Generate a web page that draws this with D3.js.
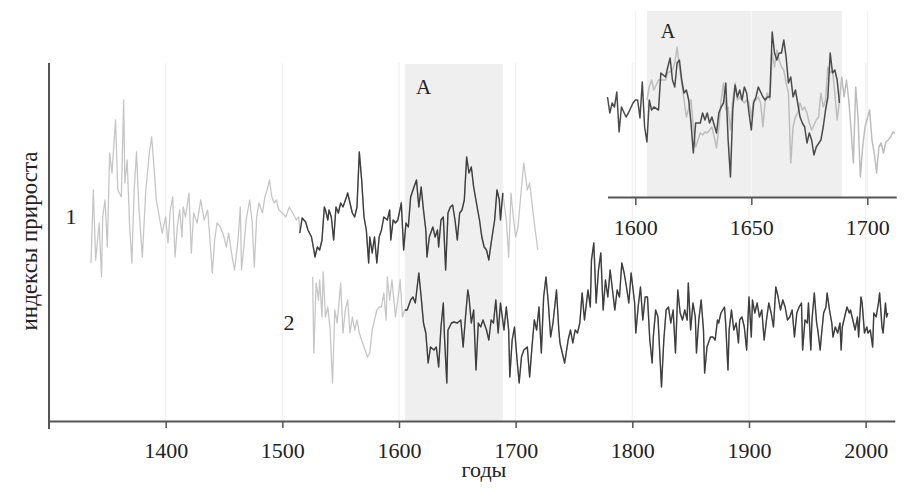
<!DOCTYPE html>
<html><head><meta charset="utf-8">
<script src="https://cdn.jsdelivr.net/npm/d3@7/dist/d3.min.js"></script>
<style>
html,body{margin:0;padding:0;background:#fff;}
svg{display:block;font-family:"Liberation Serif","Times New Roman",serif;}
</style></head>
<body><svg id="chart" width="921" height="491"></svg>
<script>
// ---- data: growth indices (%) ----
const xTicksMain = [1400,1500,1600,1700,1800,1900,2000];
const xTicksInset = [1600,1650,1700];
const periodA = [1605,1689];
const s1DarkRange = [1515,1689];
const s2DarkRange = [1605,2019];

const s1Years = [1336,1338,1340,1343,1345,1346,1348,1350,1352,1354,1357,1359,1362,1364,1365,1367,1369,1371,1373,1375,
1377,1380,1383,1386,1388,1390,1392,1395,1397,1400,1402,1404,1406,1408,1410,1412,1414,1415,1417,1420,
1422,1424,1427,1430,1433,1436,1438,1440,1442,1444,1447,1450,1452,1454,1457,1459,1462,1464,1465,1467,
1469,1472,1474,1476,1478,1480,1483,1485,1487,1489,1491,1493,1495,1497,1500,1503,1506,1509,1512,1514,
1515,1517,1520,1522,1525,1527,1528,1530,1532,1534,1536,1537,1539,1540,1542,1544,1546,1548,1550,1552,
1555,1556,1558,1560,1562,1564,1566,1568,1570,1572,1574,1575,1577,1579,1581,1583,1585,1587,1590,1592,
1593,1595,1597,1599,1602,1604,1606,1608,1610,1612,1615,1617,1619,1621,1623,1624,1626,1629,1631,1633,
1634,1636,1638,1640,1642,1644,1646,1648,1650,1652,1654,1656,1658,1660,1662,1664,1667,1669,1671,1673,
1675,1677,1679,1682,1684,1686,1687,1689,
1692,1694,1696,1698,1700,1702,1705,1707,1710,1712,1714,1716,1719];
const s1Values = [52,125,55,92,38,98,115,68,162,142,195,125,118,215,132,155,92,52,125,163,
108,58,125,162,178,148,115,95,82,98,72,105,118,58,88,105,78,108,98,122,
62,102,92,115,95,105,75,42,75,92,88,78,68,82,58,45,75,108,45,68,
95,115,95,48,98,112,102,118,125,135,118,112,115,105,102,98,108,102,95,98,
82,97,93,85,78,65,58,68,65,75,108,105,95,105,98,75,108,102,112,108,
118,122,112,102,98,108,163,135,98,85,52,78,62,78,52,78,85,98,95,105,
75,95,92,95,112,65,92,88,118,125,135,108,128,105,85,58,78,88,78,85,
68,95,98,45,102,108,110,95,75,102,105,115,158,142,148,128,108,95,78,68,
65,55,72,95,125,115,95,122,
95,58,122,98,78,88,128,152,125,132,112,92,65];

const s2Years = [1526,1527,1529,1531,1532,1534,1535,1537,1539,1541,1543,1545,1547,1549,1550,1552,1554,1556,1558,1560,
1562,1564,1566,1568,1570,1573,1575,1577,1579,1581,1583,1585,1587,1589,1590,1592,1594,1597,1599,1601,1603,
1605,1607,1610,1612,1614,1615,1617,1619,1621,1623,1625,1627,1630,1632,1634,1636,1638,1639,1641,1642,
1645,1647,1650,1653,1655,1657,1659,1660,1662,1664,1666,1668,1670,1672,1675,1677,1679,1681,1683,1685,
1687,1690,1692,1694,1695,1697,1699,1701,1703,1705,1707,1710,1712,1714,1716,1718,1720,1722,1724,1726,
1728,1730,1732,1735,1737,1738,1740,1742,1745,1747,1749,1751,1753,1755,1757,1759,1762,1764,1765,1767,
1769,1771,1773,1775,1777,1779,1781,1783,1785,1787,1789,1791,1793,1795,1797,1799,1802,1803,1805,1807,
1809,1811,1813,1815,1817,1818,1820,1822,1825,1827,1829,1831,1833,1835,1837,1839,1841,1843,1845,1847,
1848,1850,1852,1854,1855,1857,1859,1861,1862,1864,1867,1869,1871,1873,1874,1876,1879,1880,1882,1883,
1885,1887,1889,1891,1892,1894,1896,1898,1900,1902,1903,1905,1907,1909,1911,1913,1915,1917,1919,1921,
1923,1925,1927,1929,1931,1933,1935,1937,1939,1941,1943,1945,1946,1948,1950,1951,1953,1954,1956,1958,
1959,1961,1962,1964,1966,1967,1969,1971,1972,1974,1976,1978,1979,1980,1982,1984,1986,1987,1989,1991,
1993,1994,1996,1997,1999,2001,2002,2004,2006,2007,2009,2011,2012,2014,2015,2017,2018,2019];
const s2Values = [138,62,132,115,135,98,143,98,108,85,32,105,92,118,132,82,105,115,82,98,
85,95,82,75,68,58,62,85,95,105,108,108,122,95,138,115,135,98,115,135,98,
105,105,115,118,112,122,142,118,92,82,52,68,65,68,48,88,112,78,32,85,
92,93,92,95,68,98,125,118,92,105,45,92,88,95,85,75,95,92,115,82,
112,85,108,85,38,75,88,58,32,58,65,68,38,68,95,85,108,62,118,138,
112,78,92,125,85,72,62,52,75,85,72,85,82,92,122,95,125,108,155,172,
112,145,162,105,135,118,145,125,105,125,118,152,142,128,112,142,112,82,108,128,
95,118,118,75,52,78,105,98,28,75,105,108,92,105,62,125,102,95,105,95,
132,85,112,98,62,95,115,85,42,68,78,78,75,95,92,102,108,92,45,85,
105,85,92,72,95,98,88,65,118,78,115,102,112,98,105,75,95,112,102,88,
128,118,105,115,108,95,98,105,78,102,108,112,65,95,92,112,65,95,122,92,
85,65,78,102,108,122,105,92,78,88,82,92,65,88,98,108,102,105,95,85,
98,78,118,112,82,88,82,85,68,102,98,112,122,88,82,112,98,102];

// inset: period A enlarged
const insetDarkYears = [1588,1589,1590,1591,1592,1593,1594,1596,1597,1599,1600,1601,1602,1603,1604,1605,1606,1607,1608,1610,
1611,1613,1614,1615,1616,1617,1618,1619,1620,1621,1622,1623,1624,1625,1626,1628,1629,1630,1631,1632,
1633,1635,1636,1637,1638,1639,1640,1641,1642,1643,1644,1645,1646,1647,1648,1649,1650,1651,1652,1653,
1655,1656,1657,1658,1659,1660,1661,1662,1663,1664,1665,1666,1667,1668,1669,1670,1671,1672,1673,1674,
1675,1676,1677,1678,1680,1681,1682,1683,1684,1685,1686,1687,1688];
const insetDarkValues = [113,97,107,103,118,78,103,93,97,107,110,110,92,128,83,68,110,100,103,100,
137,133,143,152,130,123,147,150,130,117,120,110,87,57,87,87,97,90,97,87,
93,77,97,103,107,127,70,33,100,125,113,120,110,123,117,97,80,107,113,123,
113,110,113,113,178,157,150,157,157,170,153,127,133,113,120,107,93,87,83,67,
77,70,55,63,70,83,100,113,157,137,140,130,107];
const insetLightYears = [1605,1606,1607,1608,1610,1611,1613,1614,1616,1617,1618,1619,1620,1621,1622,1624,1625,1626,1627,1628,
1629,1630,1631,1633,1634,1635,1636,1637,1638,1639,1640,1641,1642,1643,1644,1645,1647,1648,1649,1650,
1651,1652,1653,1654,1655,1656,1657,1658,1659,1660,1661,1662,1663,1664,1665,1666,1667,1668,1669,1670,
1671,1672,1673,1674,1675,1676,1678,1679,1680,1681,1682,1683,1684,1685,1686,1687,1688,1689,1690,1691,
1692,1693,1694,1695,1696,1697,1698,1699,1701,1702,1703,1704,1705,1706,1707,1708,1709,1710,1711,1712];
const insetLightValues = [110,123,130,120,130,130,130,137,140,147,163,143,127,110,93,110,83,63,70,77,
75,78,77,83,73,62,83,110,127,100,103,80,110,127,110,113,107,110,107,93,
110,110,113,107,83,110,117,110,157,143,160,150,143,140,127,117,47,83,93,97,
107,100,103,97,87,80,90,93,117,103,110,143,137,140,117,90,110,133,113,130,
110,80,47,123,93,33,63,83,100,70,57,37,63,67,57,68,70,73,78,77];

const labels = {y:"индексы прироста", x:"годы", period:"A", s1:"1", s2:"2"};

// ---- drawing ----
const svg = d3.select("#chart");
const font = '"Liberation Serif","Times New Roman",serif';
const axisCol = "#555", darkCol = "#3d3d3d", lightCol = "#c6c6c6", shadeCol = "#efefef", gridCol = "#f0f0f0";

const x = d3.scaleLinear().domain([1300,2025]).range([49,894.8]);
const y = d3.scaleLinear().domain([0,358]).range([421,63]);
const off1 = 106, off2 = 6;

// grid
svg.append("g").selectAll("line").data(xTicksMain).join("line")
  .attr("x1",d=>x(d)).attr("x2",d=>x(d)).attr("y1",y(358)).attr("y2",y(0))
  .attr("stroke",gridCol).attr("stroke-width",1.2);
// period A shade
svg.append("rect").attr("x",x(periodA[0])).attr("width",x(periodA[1])-x(periodA[0]))
  .attr("y",y(357)).attr("height",y(0)-y(357)).attr("fill",shadeCol);

function drawSeries(g, years, values, xs, ys, off, range){
  const pts = years.map((yr,i)=>({yr, v:values[i]}));
  const line = d3.line().x(d=>xs(d.yr)).y(d=>ys(d.v+off));
  g.append("path").attr("d",line(pts)).attr("fill","none").attr("stroke",lightCol)
    .attr("stroke-width",1.3).attr("stroke-linejoin","round");
  const dk = pts.filter(d=>d.yr>=range[0] && d.yr<=range[1]);
  g.append("path").attr("d",line(dk)).attr("fill","none").attr("stroke",darkCol)
    .attr("stroke-width",1.4).attr("stroke-linejoin","round");
}
const gm = svg.append("g");
drawSeries(gm, s1Years, s1Values, x, y, off1, s1DarkRange);
drawSeries(gm, s2Years, s2Values, x, y, off2, s2DarkRange);

// axes
const xAxis = d3.axisBottom(x).tickValues(xTicksMain).tickSize(7).tickSizeOuter(0).tickFormat(d3.format("d"));
const gx = svg.append("g").attr("transform",`translate(0,${y(0)})`).call(xAxis);
gx.select(".domain").attr("stroke",axisCol).attr("stroke-width",2);
gx.selectAll(".tick line").attr("stroke",axisCol).attr("stroke-width",1.5);
gx.selectAll(".tick text").attr("dy",null).attr("y",37).attr("font-size",22)
  .attr("font-family",font).attr("fill","#222");
svg.append("line").attr("x1",x(1300)).attr("x2",x(1300)).attr("y1",y(358)).attr("y2",y(0)+8)
  .attr("stroke",axisCol).attr("stroke-width",2);

// labels
svg.append("text").attr("transform",`translate(37,${241}) rotate(-90)`).attr("text-anchor","middle")
  .attr("font-size",23).attr("font-family",font).attr("fill","#222").text(labels.y);
svg.append("text").attr("x",484).attr("y",477).attr("text-anchor","middle")
  .attr("font-size",22).attr("font-family",font).attr("fill","#222").text(labels.x);
svg.append("text").attr("x",423.5).attr("y",94).attr("text-anchor","middle")
  .attr("font-size",21).attr("font-family",font).attr("fill","#222").text(labels.period);
svg.append("text").attr("x",71).attr("y",224).attr("text-anchor","middle")
  .attr("font-size",22).attr("font-family",font).attr("fill","#222").text(labels.s1);
svg.append("text").attr("x",289).attr("y",330).attr("text-anchor","middle")
  .attr("font-size",22).attr("font-family",font).attr("fill","#222").text(labels.s2);

// inset
const xi = d3.scaleLinear().domain([1588,1712.5]).range([607.5,896.3]);
const yi = d3.scaleLinear().domain([13,199]).range([197,11]);
const gi = svg.append("g");
gi.selectAll("line.grid").data(xTicksInset).join("line").attr("class","grid")
  .attr("x1",d=>xi(d)).attr("x2",d=>xi(d)).attr("y1",yi(199)).attr("y2",yi(13))
  .attr("stroke",gridCol).attr("stroke-width",1.2);
gi.append("rect").attr("x",xi(periodA[0])).attr("width",xi(periodA[1])-xi(periodA[0]))
  .attr("y",yi(199)).attr("height",yi(13)-yi(199)).attr("fill",shadeCol);
gi.selectAll("line.grid2").data(xTicksInset).join("line").attr("class","grid2")
  .attr("x1",d=>xi(d)).attr("x2",d=>xi(d)).attr("y1",yi(199)).attr("y2",yi(13))
  .attr("stroke","#f7f7f7").attr("stroke-width",1.2)
  .attr("opacity",d=>(d>periodA[0]&&d<periodA[1])?1:0);
const li = d3.line().x(d=>xi(d.yr)).y(d=>yi(d.v));
gi.append("path").attr("d",li(insetLightYears.map((yr,i)=>({yr,v:insetLightValues[i]}))))
  .attr("fill","none").attr("stroke","#bdbdbd").attr("stroke-width",1.5).attr("stroke-linejoin","round");
gi.append("path").attr("d",li(insetDarkYears.map((yr,i)=>({yr,v:insetDarkValues[i]}))))
  .attr("fill","none").attr("stroke","#4a4a4a").attr("stroke-width",1.5).attr("stroke-linejoin","round");
const xAxisI = d3.axisBottom(xi).tickValues(xTicksInset).tickSize(8).tickSizeOuter(0).tickFormat(d3.format("d"));
const gxi = svg.append("g").attr("transform",`translate(0,${yi(13)})`).call(xAxisI);
gxi.select(".domain").attr("stroke",axisCol).attr("stroke-width",2);
gxi.selectAll(".tick line").attr("stroke",axisCol).attr("stroke-width",1.5);
gxi.selectAll(".tick text").attr("dy",null).attr("y",38).attr("font-size",22)
  .attr("font-family",font).attr("fill","#222");
svg.append("text").attr("x",668).attr("y",38).attr("text-anchor","middle")
  .attr("font-size",20).attr("font-family",font).attr("fill","#222").text(labels.period);
</script></body></html>
